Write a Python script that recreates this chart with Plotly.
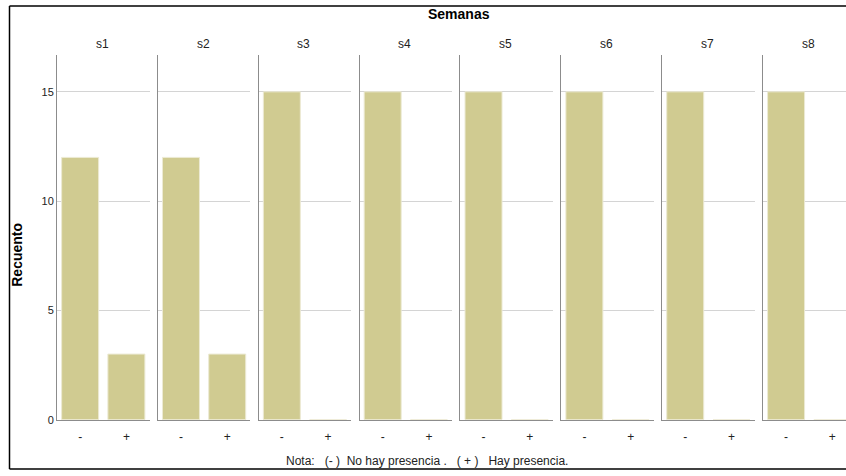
import plotly.graph_objects as go

weeks = ["s1", "s2", "s3", "s4", "s5", "s6", "s7", "s8"]
categories = ["-", "+"]
count_minus = [12, 12, 15, 15, 15, 15, 15, 15]
count_plus = [3, 3, 0, 0, 0, 0, 0, 0]
y_ticks = [0, 5, 10, 15]

W, H = 846, 476
FONT = "Arial, Liberation Sans, sans-serif"
BAR = "#D0CB91"

fig = go.Figure()
layout = {}
panel_w = 92.5
step = 100.85
y_bot, y_top = 425, 56
ydom = [(H - y_bot) / H, (H - y_top) / H]
ymax = 15 * (y_bot - y_top) / (332.0)


def ann(text, px, py, size, color="#222", angle=0):
    return dict(text=text, x=px / W, y=(H - py) / H, xref="paper", yref="paper",
                xanchor="center", yanchor="middle", showarrow=False, textangle=angle,
                font=dict(family=FONT, size=size, color=color))


def pline(x0, y0, x1, y1):
    return dict(type="line", xref="paper", yref="paper",
                x0=x0 / W, x1=x1 / W, y0=(H - y0) / H, y1=(H - y1) / H,
                line=dict(color="#000", width=1.5))


annotations = []
for i, wk in enumerate(weeks):
    n = "" if i == 0 else str(i + 1)
    left = 57 + step * i
    right = left + panel_w
    xr = [-0.5, 1.5]
    if right > W:
        xr = [-0.5, -0.5 + 2 * (W - left) / panel_w]
        right = W
    fig.add_trace(go.Bar(
        x=categories, y=[count_minus[i], count_plus[i]],
        marker=dict(color=BAR, line=dict(color="#ECEAD4", width=1)),
        width=0.8, xaxis="x" + n, yaxis="y" + n, showlegend=False,
        hoverinfo="x+y"))
    layout["xaxis" + n] = dict(
        domain=[left / W, right / W], anchor="y" + n, range=xr,
        type="category", showline=True, linecolor="#8c8c8c", linewidth=1,
        ticks="", showgrid=False, zeroline=False, fixedrange=True,
        tickfont=dict(family=FONT, size=12, color="#222"), ticklabelstandoff=6)
    layout["yaxis" + n] = dict(
        domain=ydom, anchor="x" + n, range=[0, ymax],
        tickvals=y_ticks, showticklabels=(i == 0),
        showline=True, linecolor="#8c8c8c", linewidth=1,
        showgrid=True, gridcolor="#D4D4D4", gridwidth=1,
        zeroline=False, ticks="", fixedrange=True,
        tickfont=dict(family=FONT, size=11, color="#222"))
    annotations.append(ann(wk, left + panel_w / 2 - 1, 45, 12))

annotations += [
    ann("<b>Semanas</b>", 459, 14, 14, "#000"),
    ann("<b>Recuento</b>", 17, 258, 14, "#000", -90),
    ann("Nota:   (- )  No hay presencia .   ( + )   Hay presencia.", 427, 467, 12),
]

fig.update_layout(
    width=W, height=H, margin=dict(l=0, r=0, t=0, b=0),
    paper_bgcolor="white", plot_bgcolor="white",
    annotations=annotations, bargap=0.2,
    shapes=[pline(9.5, 6, W, 6), pline(9.5, 6, 9.5, 475), pline(9.5, 475, W, 475)],
    **layout)

fig.write_html("out.html", config={"displayModeBar": False},
               post_script="document.body.style.margin='0px';")
